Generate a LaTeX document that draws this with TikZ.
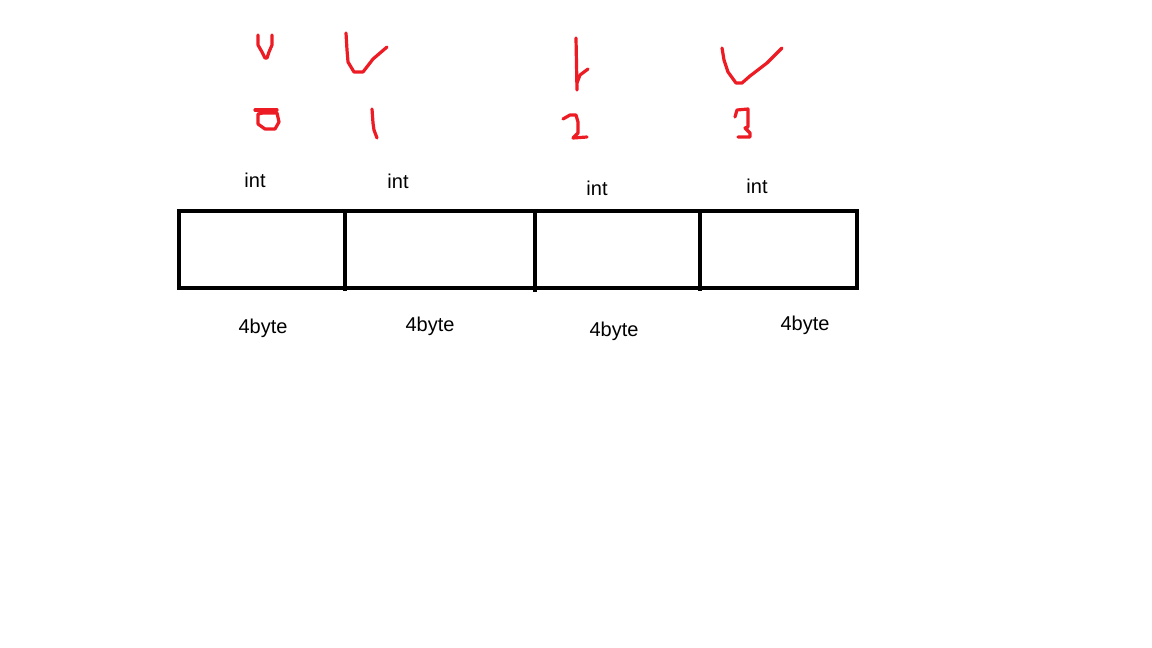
\documentclass[tikz,border=0pt]{standalone}
\usepackage{fontspec}
\setmainfont{Liberation Sans}
\definecolor{paintred}{RGB}{237,28,36}
\tikzset{
	trazo/.style={paintred, line width=1.6pt, line cap=round, line join=round},
	etiqueta/.style={font=\fontsize{10}{12}\selectfont, inner sep=0pt},
}
\begin{document}
\begin{tikzpicture}[x=0.5pt, y=-0.5pt]
		% Lienzo
		\useasboundingbox[fill=white] (0,0) rectangle (1152,648);
		% Marcas rojas a mano
		\draw[trazo] (258,35) -- (258,45) -- (262,52) -- (265,58) -- (267,58) -- (269,52) -- (272,45) -- (272,35);
		\draw[trazo] (346,33) -- (347,50) -- (348,62) -- (354,72) -- (363,72) -- (373,59) -- (387,47);
		\draw[trazo] (576,38) -- (577,90);
		\draw[trazo] (577,83) -- (580,75) -- (588,69);
		\draw[trazo] (722,48) -- (724,60) -- (728,72) -- (736,83) -- (742,83) -- (750,76) -- (767,63) -- (782,48);
		% Indices
		\draw[trazo] (255,110) -- (277,110);
		\draw[trazo] (263,113) -- (258,114) -- (258,124) -- (265,129) -- (275,129) -- (279,122) -- (277,113) -- (263,113);
		\draw[trazo] (372,109) -- (373,123) -- (374,130) -- (377,138);
		\draw[trazo] (563,119) -- (570,115) -- (576,115) -- (578,122) -- (578,133) -- (573,138) -- (587,137);
		\draw[trazo] (735,117) -- (737,110) -- (748,109) -- (748,127) -- (745,128) -- (750,133) -- (750,137) -- (738,137);
		% Arreglo de cuatro enteros
		\draw[line width=2pt] (179,211) rectangle (857,288);
		\draw[line width=2pt] (345,211) -- (345,291);
		\draw[line width=2pt] (535,211) -- (535,292);
		\draw[line width=2pt] (700,211) -- (700,291);
		% Tipos
		\node[etiqueta] (tipo0) at (255,180) {int};
		\node[etiqueta] (tipo1) at (398,181) {int};
		\node[etiqueta] (tipo2) at (597,188) {int};
		\node[etiqueta] (tipo3) at (757,186) {int};
		% Tamaños
		\node[etiqueta] (byte0) at (263,328) {4byte};
		\node[etiqueta] (byte1) at (430,326) {4byte};
		\node[etiqueta] (byte2) at (614,331) {4byte};
		\node[etiqueta] (byte3) at (805,325) {4byte};
	\end{tikzpicture}
\end{document}
